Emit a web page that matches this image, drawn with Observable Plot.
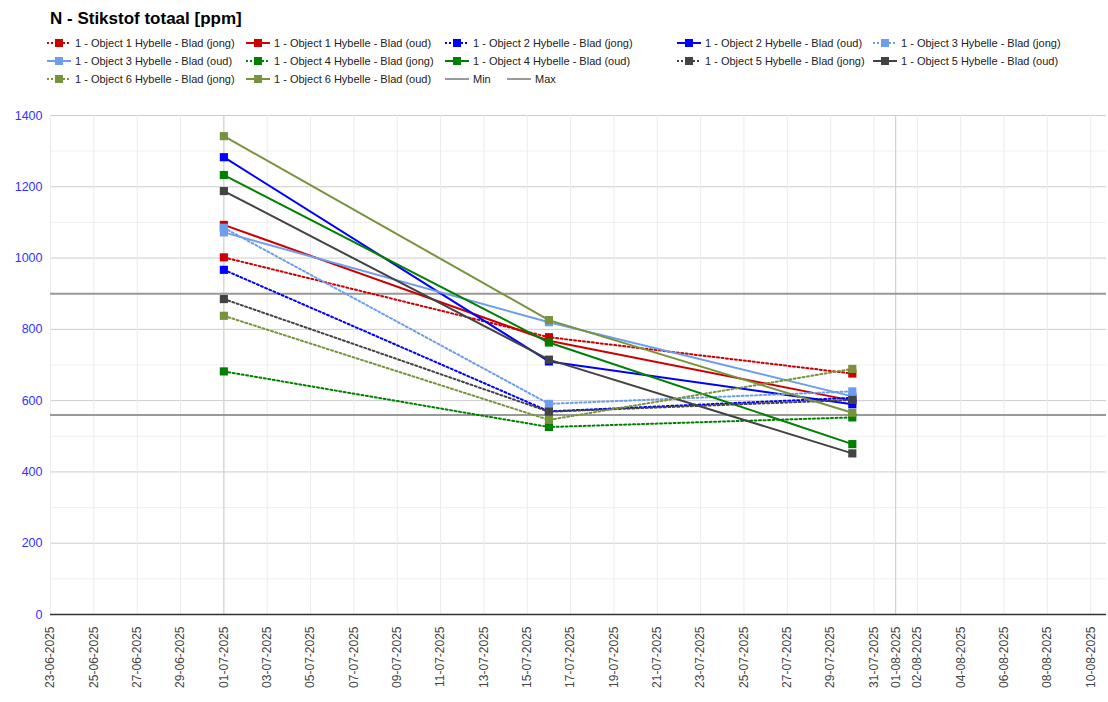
<!DOCTYPE html>
<html>
<head>
<meta charset="utf-8">
<script src="https://cdn.jsdelivr.net/npm/d3@7"></script>
<script src="https://cdn.jsdelivr.net/npm/@observablehq/plot@0.6"></script>
<style>
  html, body { margin: 0; padding: 0; background: #fff; }
  body { width: 1108px; height: 702px; overflow: hidden; font-family: "Liberation Sans", Arial, sans-serif; }
  #wrap { position: relative; width: 1108px; height: 702px; }
  #title { position: absolute; left: 50px; top: 9px; font-size: 17px; font-weight: bold; color: #000; }
  #legend { position: absolute; left: 0; top: 0; width: 1108px; height: 95px; }
  .item { position: absolute; display: flex; align-items: center; font-size: 11px; color: #222; white-space: nowrap; }
  .item svg { margin-right: 4px; }
  #chart { position: absolute; left: 0; top: 95px; }
</style>
</head>
<body>
<div id="wrap">
  <div id="title">N - Stikstof totaal [ppm]</div>
  <div id="legend"></div>
  <div id="chart"></div>
</div>
<script>
// ---- data ----
const sampleDates = ["2025-07-01", "2025-07-16", "2025-07-30"];
const seriesNames = [
  "1 - Object 1 Hybelle - Blad (jong)",
  "1 - Object 1 Hybelle - Blad (oud)",
  "1 - Object 2 Hybelle - Blad (jong)",
  "1 - Object 2 Hybelle - Blad (oud)",
  "1 - Object 3 Hybelle - Blad (jong)",
  "1 - Object 3 Hybelle - Blad (oud)",
  "1 - Object 4 Hybelle - Blad (jong)",
  "1 - Object 4 Hybelle - Blad (oud)",
  "1 - Object 5 Hybelle - Blad (jong)",
  "1 - Object 5 Hybelle - Blad (oud)",
  "1 - Object 6 Hybelle - Blad (jong)",
  "1 - Object 6 Hybelle - Blad (oud)"
];
const obj1Jong = [1002, 778, 676];
const obj1Oud  = [1093, 768, 600];
const obj2Jong = [967, 570, 608];
const obj2Oud  = [1283, 710, 590];
const obj3Jong = [1085, 591, 626];
const obj3Oud  = [1072, 820, 612];
const obj4Jong = [682, 526, 553];
const obj4Oud  = [1233, 763, 478];
const obj5Jong = [885, 569, 602];
const obj5Oud  = [1188, 715, 452];
const obj6Jong = [838, 546, 689];
const obj6Oud  = [1342, 826, 566];
const seriesValues = [obj1Jong, obj1Oud, obj2Jong, obj2Oud, obj3Jong, obj3Oud,
                      obj4Jong, obj4Oud, obj5Jong, obj5Oud, obj6Jong, obj6Oud];
const minValue = [560];
const maxValue = [900];
const refNames = ["Min", "Max"];
const yTicks = [0, 200, 400, 600, 800, 1000, 1200, 1400];
const yMinorTicks = [100, 300, 500, 700, 900, 1100, 1300];
const xTickLabels = [
  "23-06-2025", "25-06-2025", "27-06-2025", "29-06-2025", "01-07-2025", "03-07-2025",
  "05-07-2025", "07-07-2025", "09-07-2025", "11-07-2025", "13-07-2025", "15-07-2025",
  "17-07-2025", "19-07-2025", "21-07-2025", "23-07-2025", "25-07-2025", "27-07-2025",
  "29-07-2025", "31-07-2025", "01-08-2025", "02-08-2025", "04-08-2025", "06-08-2025",
  "08-08-2025", "10-08-2025"
];
const majorXLabels = ["01-07-2025", "01-08-2025"];

// ---- styles ----
const colors = ["#cc0000", "#cc0000", "#0000ff", "#0000ff", "#6d9eeb", "#6d9eeb",
                "#008000", "#008000", "#434343", "#434343", "#77933c", "#77933c"];
const dotted = seriesNames.map(n => n.endsWith("(jong)"));

const parseDMY = d3.utcParse("%d-%m-%Y");
const parseISO = d3.utcParse("%Y-%m-%d");
const fmt = d3.utcFormat("%d-%m-%Y");
const xTickDates = xTickLabels.map(parseDMY);
const majorXDates = majorXLabels.map(parseDMY);

const rows = [];
seriesNames.forEach((name, i) => {
  seriesValues[i].forEach((v, j) => rows.push({series: name, idx: i, date: parseISO(sampleDates[j]), value: v}));
});

const xDomain = [parseDMY("23-06-2025"), new Date(Date.UTC(2025, 7, 10, 17, 30))];

const lineMarks = seriesNames.map((name, i) => Plot.line(rows.filter(r => r.idx === i), {
  x: "date", y: "value", stroke: colors[i], strokeWidth: 2,
  strokeDasharray: dotted[i] ? "2,2.5" : null
}));
const dotMarks = seriesNames.map((name, i) => Plot.dot(rows.filter(r => r.idx === i), {
  x: "date", y: "value", fill: colors[i], symbol: "square", r: 4.6, stroke: "none"
}));

const chart = Plot.plot({
  width: 1108,
  height: 607,
  marginTop: 20,
  marginBottom: 88,
  marginLeft: 50,
  marginRight: 2,
  style: {fontFamily: "'Liberation Sans', Arial, sans-serif", background: "#fff"},
  x: {type: "utc", domain: xDomain},
  y: {domain: [0, 1400]},
  marks: [
    Plot.gridY(yMinorTicks, {stroke: "#efefef", strokeOpacity: 1}),
    Plot.gridY(yTicks, {stroke: "#cccccc", strokeOpacity: 1}),
    Plot.gridX(xTickDates, {stroke: "#ebebeb", strokeOpacity: 1}),
    Plot.gridX(majorXDates, {stroke: "#cccccc", strokeOpacity: 1}),
    Plot.axisY(yTicks, {tickSize: 0, tickPadding: 8, fontSize: 12.5, fill: "#3333ff",
      tickFormat: d => String(d), label: null}),
    Plot.axisX(xTickDates, {tickSize: 0, tickPadding: 12, tickRotate: -90, fontSize: 12,
      fill: "#444", tickFormat: d => fmt(d), label: null}),
    Plot.ruleY([0], {stroke: "#333", strokeWidth: 1.5}),
    Plot.ruleY(minValue, {stroke: "#999", strokeWidth: 2}),
    Plot.ruleY(maxValue, {stroke: "#999", strokeWidth: 2}),
    ...lineMarks,
    ...dotMarks
  ]
});
document.getElementById("chart").appendChild(chart);

// ---- legend ----
const legendItems = seriesNames.map((n, i) => ({name: n, color: colors[i], dotted: dotted[i], marker: true}))
  .concat(refNames.map(n => ({name: n, color: "#999", dotted: false, marker: false})));
const rowTops = [37, 55, 73];
const colLefts = [[47, 246, 445, 677, 873], [47, 246, 445, 677, 873], [47, 246, 445, 507]];
const legend = document.getElementById("legend");
let k = 0;
colLefts.forEach((cols, r) => {
  cols.forEach(left => {
    const it = legendItems[k++];
    if (!it) return;
    const div = document.createElement("div");
    div.className = "item";
    div.style.left = left + "px";
    div.style.top = rowTops[r] + "px";
    const dash = it.dotted ? 'stroke-dasharray="2,2"' : "";
    const sq = it.marker ? `<rect x="8" y="1" width="8" height="8" fill="${it.color}"/>` : "";
    div.innerHTML = `<svg width="24" height="10"><line x1="0" x2="24" y1="5" y2="5" stroke="${it.color}" stroke-width="2" ${dash}/>${sq}</svg><span>${it.name}</span>`;
    legend.appendChild(div);
  });
});
</script>
</body>
</html>
